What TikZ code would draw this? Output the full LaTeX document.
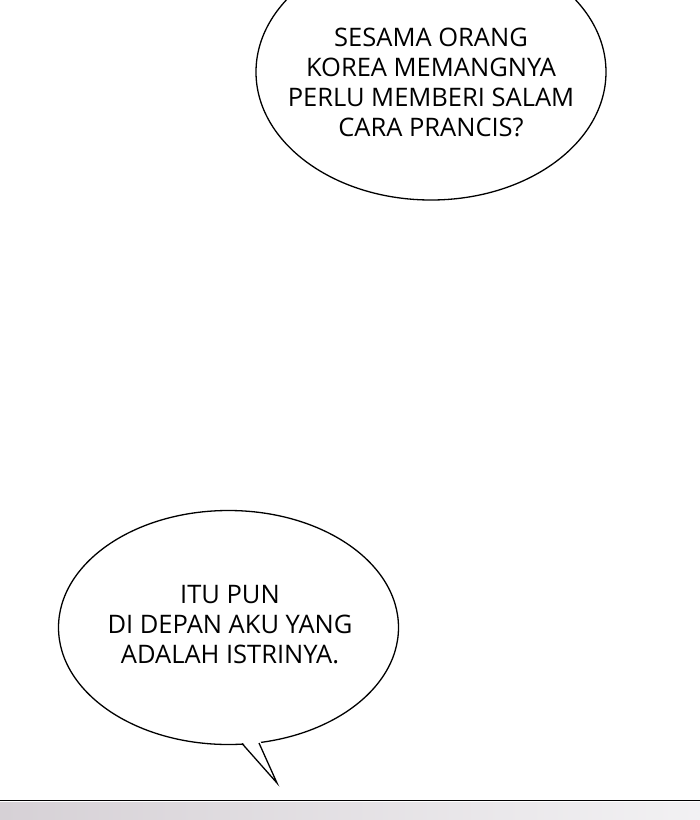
\documentclass[tikz,border=0pt]{standalone}
\usepackage{fontspec}
\setmainfont{Open Sans}
\usetikzlibrary{shapes.geometric}
\definecolor{stripL}{HTML}{D6D1D6}
\definecolor{stripR}{HTML}{F2F1F3}
\begin{document}
\begin{tikzpicture}[x=1pt,y=-1pt,
  bubble/.style={ellipse, draw, line width=1.3pt, fill=white, inner sep=0pt},
  say/.style={align=center, font=\fontsize{25.5}{30}\selectfont, inner sep=0pt}]
\useasboundingbox (0,0) rectangle (700,820);
\fill[white] (0,0) rectangle (700,820);
\shade[left color=stripL, right color=stripR] (0,802) rectangle (700,820);
\coordinate (rl) at (0,800.5);
\coordinate (rr) at (700,800.5);
\draw[line width=1.8pt, black] (rl) -- (rr);
\begin{scope}
\clip (0,0) rectangle (700,820);
\node[bubble, minimum width=350, minimum height=256] (top) at (431,72) {};
\end{scope}
\node[say] (toptext) at (431,82) {SESAMA ORANG\\KOREA MEMANGNYA\\PERLU MEMBERI SALAM\\CARA PRANCIS?};
\node[bubble, minimum width=340, minimum height=234] (bot) at (228.5,627.5) {};
\coordinate (ta) at (242,743.5);
\coordinate (tb) at (259,743);
\coordinate (tip) at (277,783);
\fill[white] ([shift={(-1,-3)}]ta) -- (tip) -- ([shift={(1,-3)}]tb) -- cycle;
\draw[line width=1.3pt, line join=miter] (ta) -- (tip) -- (tb);
\node[say] (bottext) at (230,625) {ITU PUN\\DI DEPAN AKU YANG\\ADALAH ISTRINYA.};
\end{tikzpicture}
\end{document}
